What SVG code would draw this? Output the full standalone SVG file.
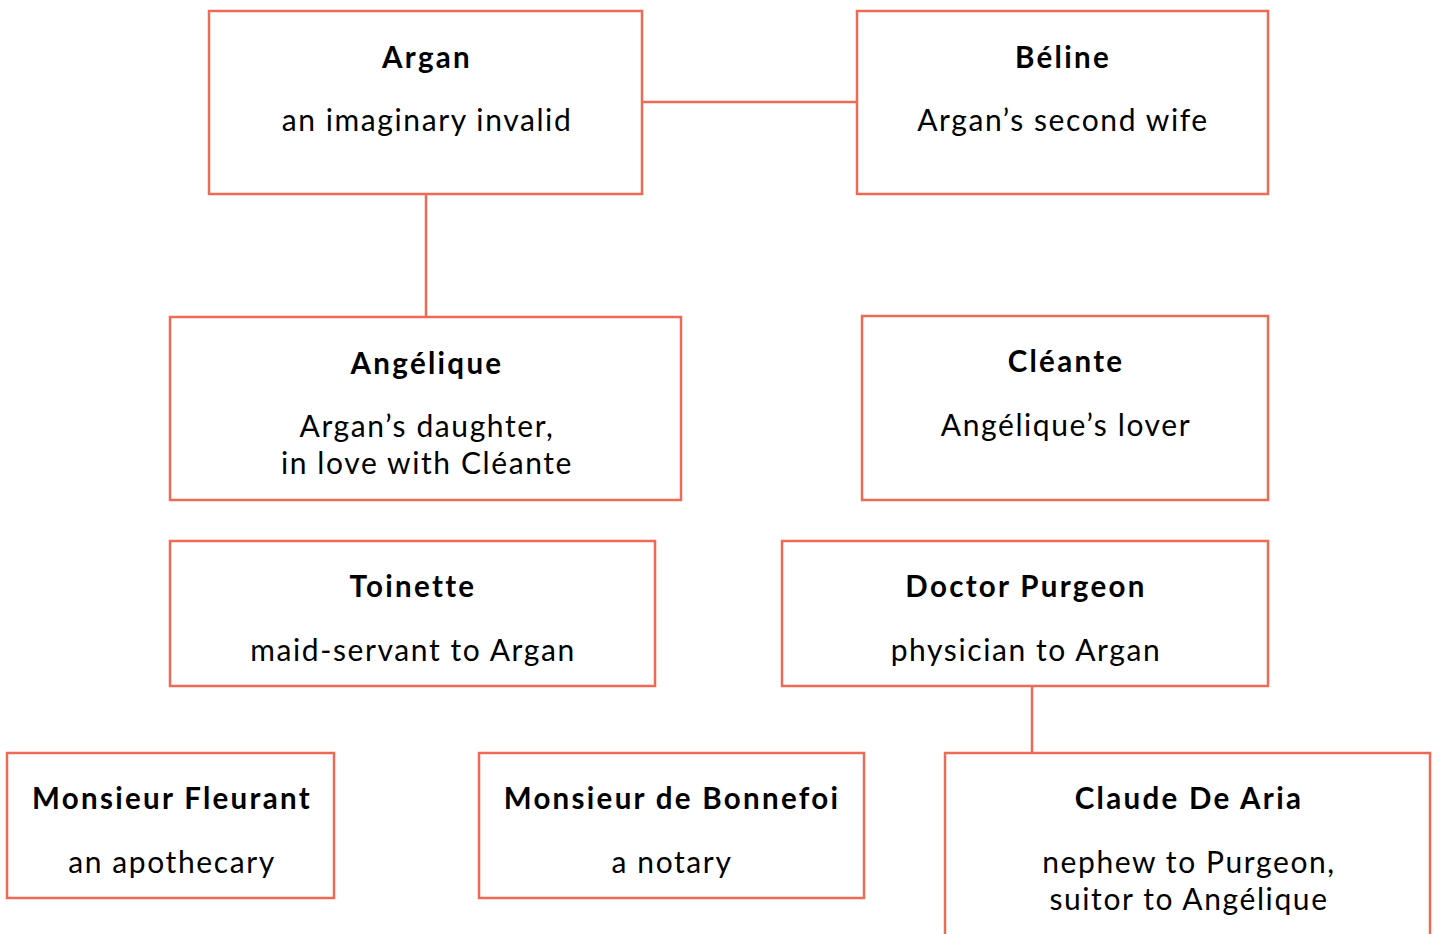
<svg xmlns="http://www.w3.org/2000/svg" width="1435" height="934" viewBox="0 0 1435 934">
<style>
.box{fill:#fff;stroke:#EE6A55;stroke-width:2.5}
.ln{stroke:#EE6A55;stroke-width:2.5;fill:none}
.t{font-family:Lato,"Noto Sans",sans-serif;font-weight:bold;font-size:29.5px;letter-spacing:2.3px;fill:#000;text-anchor:middle}
.s{font-family:Lato,"Noto Sans",sans-serif;font-size:30px;letter-spacing:1.6px;fill:#000;text-anchor:middle}
</style>
<rect width="1435" height="934" fill="#fff"/>
<g id="connectors">
<line class="ln" x1="642" y1="102" x2="857" y2="102"/>
<line class="ln" x1="426" y1="194" x2="426" y2="317"/>
<line class="ln" x1="1032" y1="686" x2="1032" y2="753"/>
</g>
<g id="argan"><rect class="box" x="209" y="11" width="433" height="183"/><text class="t" x="427" y="68">Argan</text><text class="s" x="427" y="131">an imaginary invalid</text></g>
<g id="beline"><rect class="box" x="857" y="11" width="411" height="183"/><text class="t" x="1063" y="68">Béline</text><text class="s" x="1063" y="131">Argan’s second wife</text></g>
<g id="angelique"><rect class="box" x="170" y="317" width="511" height="183"/><text class="t" x="427" y="374">Angélique</text><text class="s" x="427" y="437">Argan’s daughter,</text><text class="s" x="427" y="474">in love with Cléante</text></g>
<g id="cleante"><rect class="box" x="862" y="316" width="406" height="184"/><text class="t" x="1066" y="372">Cléante</text><text class="s" x="1066" y="436">Angélique’s lover</text></g>
<g id="toinette"><rect class="box" x="170" y="541" width="485" height="145"/><text class="t" x="413" y="597">Toinette</text><text class="s" x="413" y="661">maid-servant to Argan</text></g>
<g id="purgeon"><rect class="box" x="782" y="541" width="486" height="145"/><text class="t" x="1026" y="597">Doctor Purgeon</text><text class="s" x="1026" y="661">physician to Argan</text></g>
<g id="fleurant"><rect class="box" x="7" y="753" width="327" height="145"/><text class="t" x="172" y="809">Monsieur Fleurant</text><text class="s" x="172" y="873">an apothecary</text></g>
<g id="bonnefoi"><rect class="box" x="479" y="753" width="385" height="145"/><text class="t" x="672" y="809">Monsieur de Bonnefoi</text><text class="s" x="672" y="873">a notary</text></g>
<g id="claude"><rect class="box" x="945" y="753" width="485" height="200"/><text class="t" x="1189" y="809">Claude De Aria</text><text class="s" x="1189" y="873">nephew to Purgeon,</text><text class="s" x="1189" y="910">suitor to Angélique</text></g>
</svg>
